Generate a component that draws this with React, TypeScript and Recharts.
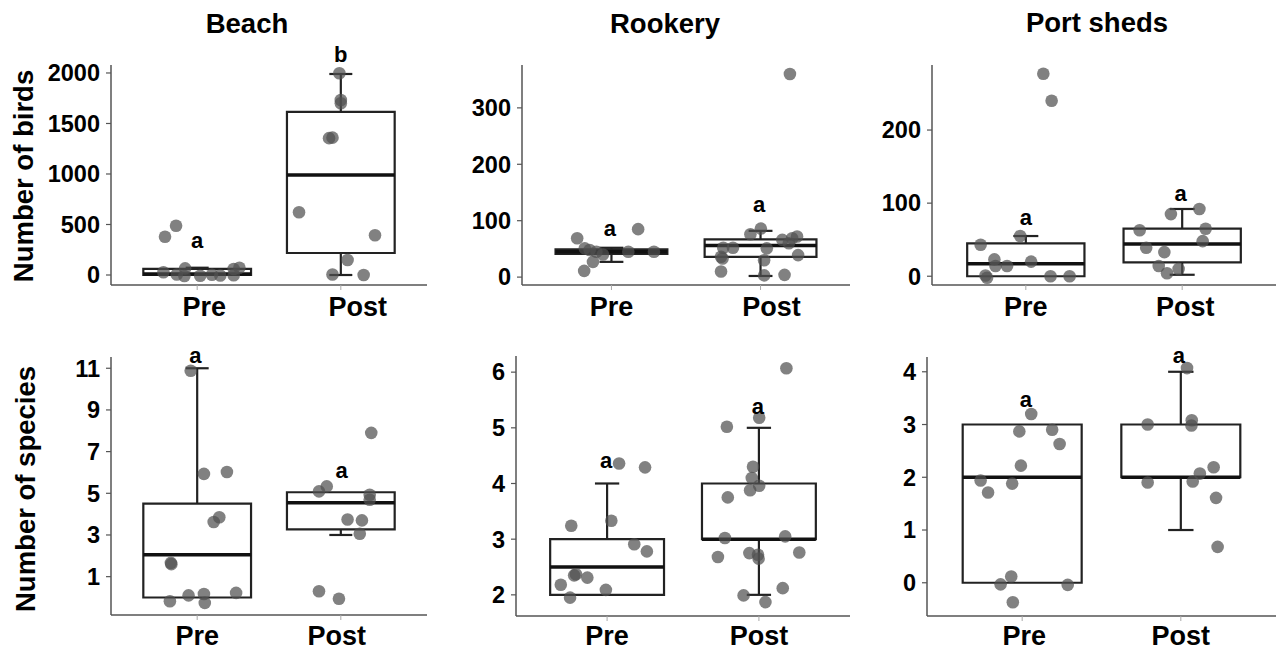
import React from "react";
import {
  ComposedChart,
  Scatter,
  XAxis,
  YAxis,
  ReferenceArea,
  ReferenceLine,
  ReferenceDot,
} from "recharts";

const GROUPS = ["Pre", "Post"];
const SITES = ["Beach", "Rookery", "Port sheds"];
const METRICS = ["Number of birds", "Number of species"];

// jittered observations: [x position (1 = Pre, 2 = Post), value]
const beachBirdsPre = [[0.776, 379], [0.853, 488], [0.765, 27], [0.858, 5], [0.916, 66], [0.911, -10], [1.021, -8], [1.103, 2], [1.161, -5], [1.254, -3], [1.254, 60], [1.294, 72]];
const beachBirdsPost = [[1.99, 1997], [2.0, 1733], [2.0, 1700], [1.918, 1355], [1.942, 1360], [1.709, 621], [2.238, 393], [2.047, 149], [1.942, 5], [2.159, 0]];
const rookeryBirdsPre = [[0.77, 69], [0.821, 51], [0.876, 27], [0.817, 11], [0.899, 45], [0.943, 40], [1.113, 45], [1.179, 85], [1.285, 45], [0.854, 48]];
const rookeryBirdsPost = [[1.932, 76], [2.002, 86], [1.75, 52], [1.815, 52], [1.735, 36], [1.745, 33], [1.735, 10], [2.042, 51], [2.024, 30], [2.024, 3], [2.161, 4], [2.146, 66], [2.212, 69], [2.245, 72], [2.252, 39], [2.19, 60], [2.197, 360]];
const portBirdsPre = [[0.711, 43], [0.964, 55], [0.799, 23], [0.806, 14], [0.88, 14], [1.034, 20], [0.742, 1], [0.752, -2], [1.158, 0], [1.28, 0], [1.112, 277], [1.165, 240]];
const portBirdsPost = [[1.928, 85], [2.11, 92], [1.728, 63], [2.15, 65], [2.131, 48], [1.77, 39], [1.886, 33], [1.85, 14], [1.903, 4], [1.977, 10]];

const beachSpeciesPre = [[0.955, 10.88], [1.047, 5.93], [1.207, 6.02], [1.115, 3.62], [1.154, 3.85], [0.817, 1.66], [0.82, 1.6], [0.81, -0.18], [0.94, 0.1], [1.047, 0.17], [1.053, -0.26], [1.271, 0.22]];
const beachSpeciesPost = [[1.848, 5.09], [1.902, 5.33], [2.212, 7.9], [2.201, 4.93], [2.201, 4.69], [2.047, 3.74], [2.147, 3.7], [2.132, 3.06], [1.848, 0.3], [1.987, -0.06]];
const rookerySpeciesPre = [[1.079, 4.36], [1.25, 4.29], [0.764, 3.24], [1.028, 3.33], [1.179, 2.91], [1.262, 2.78], [0.795, 2.37], [0.783, 2.35], [0.87, 2.31], [0.695, 2.18], [0.992, 2.09], [0.756, 1.95]];
const rookerySpeciesPost = [[2.181, 6.07], [2.002, 5.18], [1.789, 5.02], [1.961, 4.3], [1.953, 4.1], [2.002, 3.96], [1.942, 3.88], [1.795, 3.75], [1.776, 3.02], [2.173, 3.05], [1.73, 2.68], [1.937, 2.75], [1.994, 2.72], [1.998, 2.65], [2.266, 2.76], [2.157, 2.12], [1.899, 1.99], [2.043, 1.87]];
const portSpeciesPre = [[1.057, 3.2], [0.982, 2.87], [1.189, 2.9], [1.236, 2.63], [0.992, 2.22], [0.738, 1.94], [0.937, 1.88], [0.785, 1.71], [0.931, 0.12], [0.864, -0.03], [1.287, -0.04], [0.941, -0.37]];
const portSpeciesPost = [[2.039, 4.07], [1.791, 3.0], [2.069, 3.08], [2.067, 2.98], [2.207, 2.19], [2.12, 2.07], [1.791, 1.9], [2.075, 1.92], [2.222, 1.61], [2.232, 0.68]];

// box stats: [lower whisker, q1, median, q3, upper whisker]
const beachBirdsBox = [[0, 0, 10, 60, 72], [0, 218, 990, 1614, 1990]];
const rookeryBirdsBox = [[27, 41, 45, 49, 52], [2, 36, 56, 67, 82]];
const portBirdsBox = [[0, 0, 17, 45, 55], [2, 19, 44, 65, 92]];
const beachSpeciesBox = [[0, 0, 2.05, 4.5, 11], [3, 3.27, 4.55, 5.05, 5.05]];
const rookerySpeciesBox = [[2, 2, 2.5, 3, 4], [2, 3, 3, 4, 5]];
const portSpeciesBox = [[0, 0, 2, 3, 3], [1, 2, 2, 3, 4]];

// significance letters: [x, y, letter]
const beachBirdsLetters = [[1.0, 340, "a"], [2.0, 2188, "b"]];
const rookeryBirdsLetters = [[0.99, 87, "a"], [1.99, 130, "a"]];
const portBirdsLetters = [[1.0, 81, "a"], [1.99, 114, "a"]];
const beachSpeciesLetters = [[0.987, 11.62, "a"], [2.006, 6.09, "a"]];
const rookerySpeciesLetters = [[0.994, 4.42, "a"], [1.994, 5.38, "a"]];
const portSpeciesLetters = [[1.024, 3.48, "a"], [1.988, 4.32, "a"]];

const beachBirdsTicks = [0, 500, 1000, 1500, 2000];
const rookeryBirdsTicks = [0, 100, 200, 300];
const portBirdsTicks = [0, 100, 200];
const beachSpeciesTicks = [1, 3, 5, 7, 9, 11];
const rookerySpeciesTicks = [2, 3, 4, 5, 6];
const portSpeciesTicks = [0, 1, 2, 3, 4];

// layout (plot area in page pixels) and y domains
const MT = 35;
const MR = 4;
const YW = 70;
const XH = 45;
const FONT = "'Liberation Sans', Arial, Helvetica, sans-serif";
const HALF = 0.375;
const CAP = 0.08;

const panels = [
  { pre: beachBirdsPre, post: beachBirdsPost, box: beachBirdsBox, letters: beachBirdsLetters, ticks: beachBirdsTicks, domain: [-99, 2079], plot: [111, 427, 65, 285], tm: 7, shift: [7, 17] },
  { pre: rookeryBirdsPre, post: rookeryBirdsPost, box: rookeryBirdsBox, letters: rookeryBirdsLetters, ticks: rookeryBirdsTicks, domain: [-14, 376], plot: [522, 850, 65, 285], tm: 7, shift: [0, 11] },
  { pre: portBirdsPre, post: portBirdsPost, box: portBirdsBox, letters: portBirdsLetters, ticks: portBirdsTicks, domain: [-12, 289], plot: [932, 1276, 65, 285], tm: 7, shift: [0, 3] },
  { pre: beachSpeciesPre, post: beachSpeciesPost, box: beachSpeciesBox, letters: beachSpeciesLetters, ticks: beachSpeciesTicks, domain: [-0.84, 11.54], plot: [111, 427, 357, 615], tm: 6, shift: [0, -4] },
  { pre: rookerySpeciesPre, post: rookerySpeciesPost, box: rookerySpeciesBox, letters: rookerySpeciesLetters, ticks: rookerySpeciesTicks, domain: [1.62, 6.29], plot: [516, 850, 356, 616], tm: 5, shift: [0, 0] },
  { pre: portSpeciesPre, post: portSpeciesPost, box: portSpeciesBox, letters: portSpeciesLetters, ticks: portSpeciesTicks, domain: [-0.63, 4.28], plot: [927, 1276, 357, 616], tm: 5, shift: [2, 0] },
];

const AXIS = "#555";
const BOX = "#222";

function Dot(props: any) {
  const { cx, cy } = props;
  if (cx == null || cy == null) return null;
  return <circle cx={cx} cy={cy} r={6.3} fill="#505050" fillOpacity={0.72} />;
}

function Panel({ p }: { p: any }) {
  const [pl, pr, pt, pb] = p.plot;
  const left = pl - YW;
  const top = pt - MT;
  const width = pr - left + MR;
  const height = MT + (pb - pt) + XH;
  const points = [...p.pre, ...p.post].map(([x, y]: number[]) => ({ x, y }));

  const XTick = (t: any) => {
    const i = t.payload.value - 1;
    return (
      <text x={t.x + p.shift[i]} y={t.y} dy="0.71em" textAnchor="middle" fontSize={27} fontWeight={700} fill="#000">
        {GROUPS[i]}
      </text>
    );
  };

  return (
    <div style={{ position: "absolute", left, top }}>
      <ComposedChart width={width} height={height} margin={{ top: MT, right: MR, bottom: 0, left: 0 }}>
        <XAxis
          type="number"
          dataKey="x"
          domain={[0.4, 2.6]}
          ticks={[1, 2]}
          allowDataOverflow
          height={XH}
          tickSize={5}
          tickMargin={p.tm}
          axisLine={{ stroke: AXIS, strokeWidth: 1.5 }}
          tickLine={{ stroke: "#aaa" }}
          tick={XTick}
        />
        <YAxis
          type="number"
          dataKey="y"
          domain={p.domain}
          ticks={p.ticks}
          allowDataOverflow
          width={YW}
          tickSize={5}
          tickMargin={6}
          axisLine={{ stroke: AXIS, strokeWidth: 1.5 }}
          tickLine={{ stroke: AXIS, strokeWidth: 1.2 }}
          tick={{ fontSize: 23.5, fontWeight: 700, fill: "#000" }}
        />
        {p.box.map((b: number[], i: number) => {
          const c = i + 1;
          return (
            <React.Fragment key={"b" + i}>
              {b[0] < b[1] && (
                <ReferenceLine segment={[{ x: c, y: b[0] }, { x: c, y: b[1] }]} stroke={BOX} strokeWidth={2.2} ifOverflow="visible" />
              )}
              {b[0] < b[1] && (
                <ReferenceLine segment={[{ x: c - CAP, y: b[0] }, { x: c + CAP, y: b[0] }]} stroke={BOX} strokeWidth={2.2} ifOverflow="visible" />
              )}
              {b[4] > b[3] && (
                <ReferenceLine segment={[{ x: c, y: b[3] }, { x: c, y: b[4] }]} stroke={BOX} strokeWidth={2.2} ifOverflow="visible" />
              )}
              {b[4] > b[3] && (
                <ReferenceLine segment={[{ x: c - CAP, y: b[4] }, { x: c + CAP, y: b[4] }]} stroke={BOX} strokeWidth={2.2} ifOverflow="visible" />
              )}
              <ReferenceArea x1={c - HALF} x2={c + HALF} y1={b[1]} y2={b[3]} fill="#fff" fillOpacity={0} stroke={BOX} strokeWidth={2.2} strokeOpacity={1} ifOverflow="visible" />
              <ReferenceLine segment={[{ x: c - HALF, y: b[2] }, { x: c + HALF, y: b[2] }]} stroke="#111" strokeWidth={3.5} ifOverflow="visible" />
            </React.Fragment>
          );
        })}
        <Scatter data={points} dataKey="y" shape={Dot} isAnimationActive={false} />
        {p.letters.map((l: any[], i: number) => (
          <ReferenceDot
            key={"l" + i}
            x={l[0]}
            y={l[1]}
            r={1}
            fill="none"
            stroke="none"
            ifOverflow="visible"
            label={{ value: l[2], position: "center", fontSize: 22, fontWeight: 700, fill: "#000" }}
          />
        ))}
      </ComposedChart>
    </div>
  );
}

export default function App() {
  return (
    <div
      style={{
        position: "absolute",
        left: 0,
        top: 0,
        width: 1281,
        height: 654,
        overflow: "hidden",
        background: "#fff",
        fontFamily: FONT,
      }}
    >
      <svg width={1281} height={654} style={{ position: "absolute", left: 0, top: 0 }}>
        <g fontFamily={FONT} fontWeight={700} fill="#000" textAnchor="middle">
          <text x={247} y={33} fontSize={27.5}>{SITES[0]}</text>
          <text x={665} y={33} fontSize={27.5}>{SITES[1]}</text>
          <text x={1097} y={32} fontSize={27.5}>{SITES[2]}</text>
          <text x={33} y={176} fontSize={27.5} transform="rotate(-90 33 176)">{METRICS[0]}</text>
          <text x={35} y={489} fontSize={27.5} transform="rotate(-90 35 489)">{METRICS[1]}</text>
        </g>
      </svg>
      {panels.map((p, i) => (
        <Panel key={i} p={p} />
      ))}
    </div>
  );
}
